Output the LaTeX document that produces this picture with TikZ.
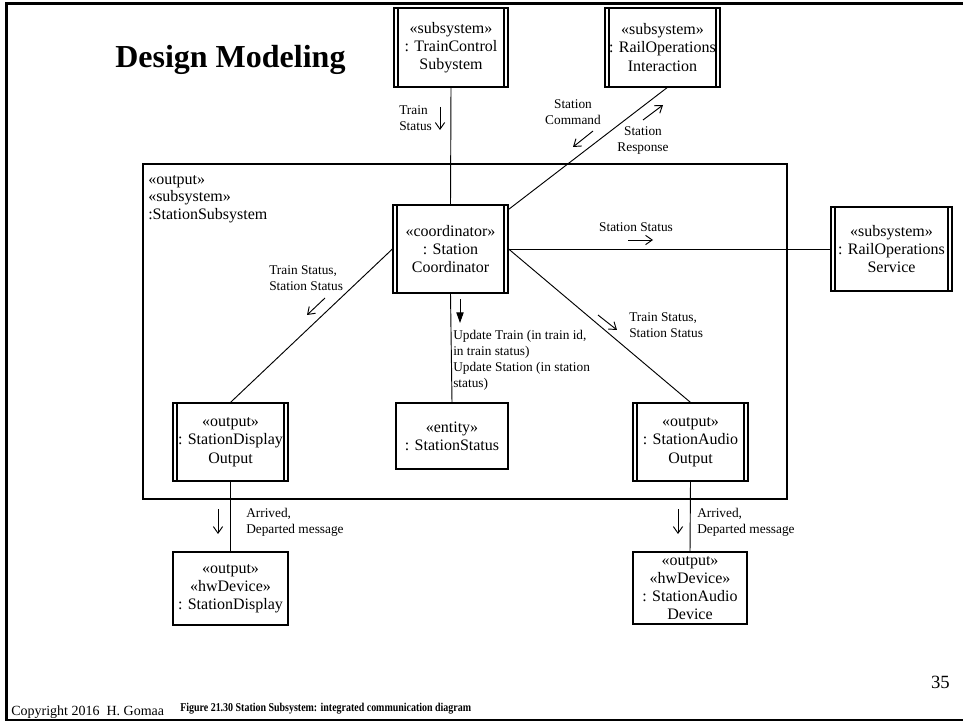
\documentclass[tikz,border=0pt]{standalone}
\usepackage{fontspec}
\setmainfont{Liberation Serif}
\usetikzlibrary{arrows.meta}

\begin{document}
\begin{tikzpicture}[x=0.75pt,y=-0.75pt,
  box/.style={draw, line width=0.9pt, align=center, inner sep=0pt,
    font=\fontsize{12}{13.7}\selectfont},
  activebox/.style={box, path picture={
    \draw[line width=0.8pt]
      ([xshift=3pt]path picture bounding box.north west) -- ([xshift=3pt]path picture bounding box.south west)
      ([xshift=-3pt]path picture bounding box.north east) -- ([xshift=-3pt]path picture bounding box.south east);}},
  link/.style={line width=0.7pt},
  msg/.style={line width=0.7pt, -{Straight Barb[length=5pt,width=7pt]}},
  syncmsg/.style={line width=0.7pt, -{Triangle[length=8pt,width=5.5pt]}},
  lbl/.style={inner sep=0pt, align=left, font=\fontsize{10}{12}\selectfont},
  lblc/.style={lbl, align=center}
]
\useasboundingbox (0,0) rectangle (963,723);

% slide frame
\draw[line width=2.2pt] (963,3.5) -- (6.5,3.5) -- (6.5,720) -- (963,720);

% title
\node[anchor=base west, inner sep=0pt, font=\fontsize{24}{28}\selectfont\bfseries] (title) at (115,68) {Design Modeling};

% enclosing subsystem
\node[draw, line width=0.9pt, inner sep=0pt, minimum width=644*0.75pt, minimum height=335*0.75pt] (sub) at (465,331.5) {};
\node[anchor=west, inner sep=0pt, align=left, font=\fontsize{12}{13.2}\selectfont] (sublbl) at (148,199)
  {«output»\\«subsystem»\\:StationSubsystem};

% objects
\node[activebox, minimum width=114*0.75pt, minimum height=79*0.75pt] (tcs) at (451,47.5)
  {«subsystem»\\: TrainControl\\Subystem};
\node[activebox, minimum width=115*0.75pt, minimum height=79*0.75pt] (roi) at (662.5,47.5)
  {«subsystem»\\: RailOperations\\Interaction};
\node[activebox, minimum width=115*0.75pt, minimum height=88*0.75pt] (sc) at (450.5,249)
  {«coordinator»\\: Station\\Coordinator};
\node[activebox, minimum width=121*0.75pt, minimum height=84*0.75pt] (ros) at (891.5,249)
  {«subsystem»\\: RailOperations\\Service};
\node[activebox, minimum width=115*0.75pt, minimum height=78*0.75pt] (sdo) at (230.5,442)
  {«output»\\: StationDisplay\\Output};
\node[box, minimum width=112*0.75pt, minimum height=66*0.75pt] (ss) at (452,436)
  {«entity»\\: StationStatus};
\node[activebox, minimum width=115*0.75pt, minimum height=78*0.75pt] (sao) at (690.5,442)
  {«output»\\: StationAudio\\Output};
\node[box, minimum width=115*0.75pt, minimum height=73*0.75pt] (sd) at (230.5,588.5)
  {«output»\\«hwDevice»\\: StationDisplay};
\node[box, minimum width=114*0.75pt, minimum height=72*0.75pt] (sad) at (690,588)
  {«output»\\«hwDevice»\\: StationAudio\\Device};

% links
\draw[link] (tcs.south) -- (sc.north);
\draw[link] ([xshift=3.5pt]roi.south) -- ([yshift=-3.75pt]sc.north east);
\draw[link] (sc.east) -- (ros.west);
\draw[link] (sc.west) -- (sdo.north);
\draw[link] (sc.east) -- (sao.north);
\draw[link] (sc.south) -- (ss.north);
\draw[link] (sdo.south) -- (sd.north);
\draw[link] (sao.south) -- (sad.north);

% messages
\draw[msg] (440,107) -- (440,130);
\node[lbl, anchor=west] (m1) at (399,118) {Train\\Status};

\draw[msg] (593,131) -- (573,147);
\node[lblc] (m2) at (573,112.5) {Station\\Command};

\draw[msg] (643,120) -- (663,105);
\node[lblc] (m3) at (643,140.5) {Station\\Response};

\draw[msg] (628,240) -- (653,240);
\node[lbl] (m4) at (636,227) {Station Status};

\draw[msg] (325,298) -- (307,315);
\node[lbl, anchor=west] (m5) at (269,278) {Train Status,\\Station Status};

\draw[msg] (598,315) -- (617,330);
\node[lbl, anchor=west] (m6) at (629,325.5) {Train Status,\\Station Status};

\draw[syncmsg] (460,299) -- (460,323);
\node[lbl, anchor=west] (m7) at (453,360)
  {Update Train (in train id,\\in train status)\\Update Station (in station\\status)};

\draw[msg] (218,509) -- (218,534);
\node[lbl, anchor=west] (m8) at (246,522.5) {Arrived,\\Departed message};

\draw[msg] (678,509) -- (678,534);
\node[lbl, anchor=west] (m9) at (697,522.5) {Arrived,\\Departed message};

% footer
\node[anchor=base west, inner sep=0pt, font=\fontsize{10.5}{12}\selectfont] (copy) at (11,715) {Copyright 2016~ H. Gomaa};
\node[anchor=base west, inner sep=0pt, font=\fontsize{9}{11}\selectfont\bfseries] (cap) at (180,711)
  {\scalebox{0.83}[1]{Figure 21.30 Station Subsystem: integrated communication diagram}};
\node[anchor=base east, inner sep=0pt, font=\fontsize{14}{16}\selectfont] (page) at (950,688) {35};
\end{tikzpicture}
\end{document}
